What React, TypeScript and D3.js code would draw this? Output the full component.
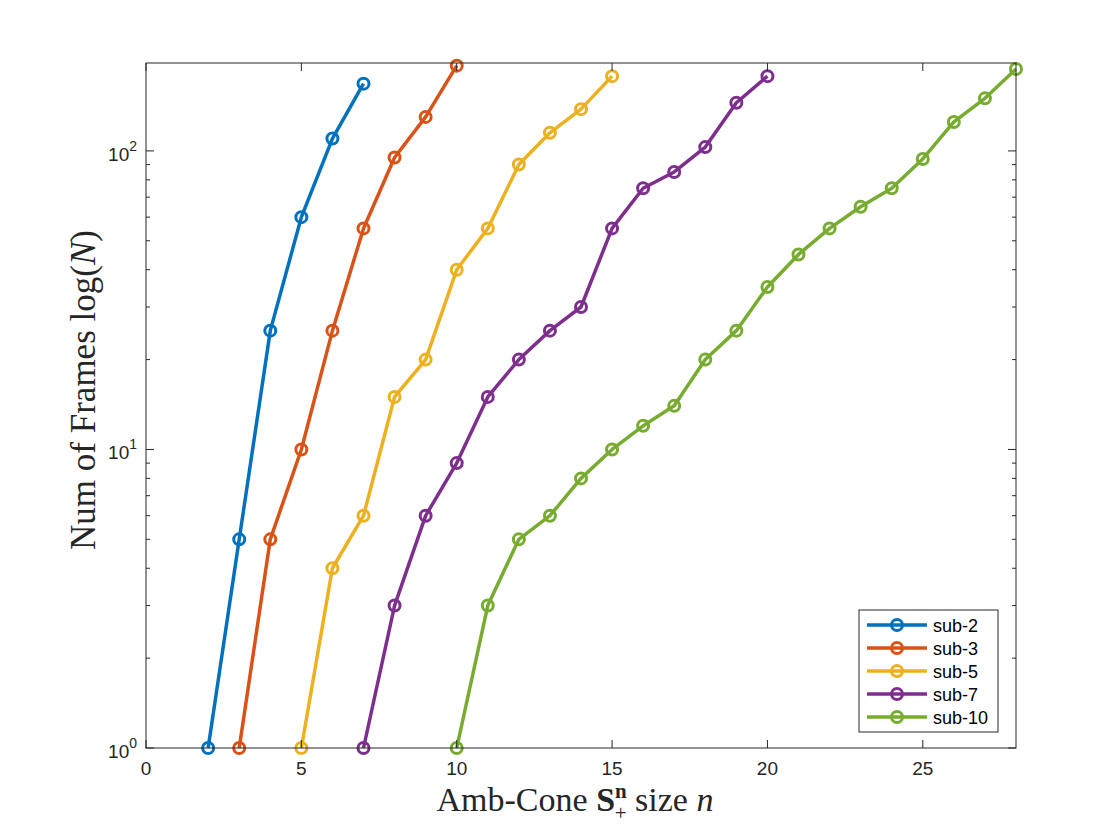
import * as d3 from 'd3';

// Amb-Cone size n vs number of frames, one series per sub-sampling level
const seriesNames = ['sub-2', 'sub-3', 'sub-5', 'sub-7', 'sub-10'];
const seriesColors = ['#0072BD', '#D95319', '#EDB120', '#7E2F8E', '#77AC30'];

const sub2X = [2, 3, 4, 5, 6, 7];
const sub2Y = [1, 5, 25, 60, 110, 168];

const sub3X = [3, 4, 5, 6, 7, 8, 9, 10];
const sub3Y = [1, 5, 10, 25, 55, 95, 130, 193];

const sub5X = [5, 6, 7, 8, 9, 10, 11, 12, 13, 14, 15];
const sub5Y = [1, 4, 6, 15, 20, 40, 55, 90, 115, 138, 178];

const sub7X = [7, 8, 9, 10, 11, 12, 13, 14, 15, 16, 17, 18, 19, 20];
const sub7Y = [1, 3, 6, 9, 15, 20, 25, 30, 55, 75, 85, 103, 145, 178];

const sub10X = [10, 11, 12, 13, 14, 15, 16, 17, 18, 19, 20, 21, 22, 23, 24, 25, 26, 27, 28];
const sub10Y = [1, 3, 5, 6, 8, 10, 12, 14, 20, 25, 35, 45, 55, 65, 75, 94, 125, 150, 188];

const xTicks = [0, 5, 10, 15, 20, 25];
const yDecades = [0, 1, 2];

const allX = [sub2X, sub3X, sub5X, sub7X, sub10X];
const allY = [sub2Y, sub3Y, sub5Y, sub7Y, sub10Y];

const W = 1120;
const H = 840;
const m = { left: 146, right: 1016, top: 63, bottom: 748 };
const axisColor = '#262626';
const tickFont = '"Liberation Sans", Arial, sans-serif';
const labelFont = '"Liberation Serif", "Times New Roman", serif';

export default function App() {
  const x = d3.scaleLinear().domain([0, 28]).range([m.left, m.right]);
  const y = d3.scaleLog().domain([1, 197]).range([m.bottom, m.top]);

  const line = d3
    .line<[number, number]>()
    .x(d => x(d[0]))
    .y(d => y(d[1]));

  const majorLen = 8;
  const minorLen = 4;

  const minorTicks: number[] = [];
  yDecades.forEach(p => {
    for (let k = 2; k <= 9; k++) {
      const v = k * Math.pow(10, p);
      if (v < 197) minorTicks.push(v);
    }
  });

  const legend = { x: 859, y: 610, w: 139, h: 122, row: 23 };

  return (
    <svg
      width={W}
      height={H}
      style={{ position: 'absolute', left: 0, top: 0, background: '#fff' }}
    >
      <rect x={0} y={0} width={W} height={H} fill="#fff" />

      {/* series */}
      {allX.map((xs, i) => {
        const pts = xs.map((v, j) => [v, allY[i][j]] as [number, number]);
        return (
          <g key={seriesNames[i]}>
            <path
              d={line(pts) ?? ''}
              fill="none"
              stroke={seriesColors[i]}
              strokeWidth={3.5}
              strokeLinejoin="round"
            />
            {pts.map((p, j) => (
              <circle
                key={j}
                cx={x(p[0])}
                cy={y(p[1])}
                r={5.5}
                fill="none"
                stroke={seriesColors[i]}
                strokeWidth={3}
              />
            ))}
          </g>
        );
      })}

      {/* axes box */}
      <rect
        x={m.left}
        y={m.top}
        width={m.right - m.left}
        height={m.bottom - m.top}
        fill="none"
        stroke={axisColor}
        strokeWidth={1}
      />

      {/* x ticks */}
      {xTicks.map(t => (
        <g key={t}>
          <line x1={x(t)} x2={x(t)} y1={m.bottom} y2={m.bottom - majorLen} stroke={axisColor} />
          <line x1={x(t)} x2={x(t)} y1={m.top} y2={m.top + majorLen} stroke={axisColor} />
          <text
            x={x(t)}
            y={m.bottom + 27}
            textAnchor="middle"
            fontFamily={tickFont}
            fontSize={19}
            fill={axisColor}
          >
            {t}
          </text>
        </g>
      ))}

      {/* y ticks */}
      {yDecades.map(p => {
        const v = Math.pow(10, p);
        return (
          <g key={p}>
            <line x1={m.left} x2={m.left + majorLen} y1={y(v)} y2={y(v)} stroke={axisColor} />
            <line x1={m.right} x2={m.right - majorLen} y1={y(v)} y2={y(v)} stroke={axisColor} />
            <text
              x={m.left - 9}
              y={y(v) + 10}
              textAnchor="end"
              fontFamily={tickFont}
              fontSize={19}
              fill={axisColor}
            >
              10
              <tspan fontSize={14} dy={-10}>
                {p}
              </tspan>
            </text>
          </g>
        );
      })}
      {minorTicks.map(v => (
        <g key={v}>
          <line x1={m.left} x2={m.left + minorLen} y1={y(v)} y2={y(v)} stroke={axisColor} />
          <line x1={m.right} x2={m.right - minorLen} y1={y(v)} y2={y(v)} stroke={axisColor} />
        </g>
      ))}

      {/* x label */}
      <text
        x={(m.left + m.right) / 2 - 6}
        y={811}
        textAnchor="middle"
        fontFamily={labelFont}
        fontSize={34}
        fill={axisColor}
      >
        Amb-Cone{' '}
        <tspan fontWeight="bold">S</tspan>
        <tspan fontWeight="bold" fontSize={21} dy={-13}>
          n
        </tspan>
        <tspan fontSize={21} dx={-12} dy={22}>
          +
        </tspan>
        <tspan dy={-9}> size </tspan>
        <tspan fontStyle="italic">n</tspan>
      </text>

      {/* y label */}
      <text
        transform={`translate(95, 390) rotate(-90)`}
        textAnchor="middle"
        fontFamily={labelFont}
        fontSize={35}
        fill={axisColor}
      >
        Num of Frames log(<tspan fontStyle="italic">N</tspan>)
      </text>

      {/* legend */}
      <rect
        x={legend.x}
        y={legend.y}
        width={legend.w}
        height={legend.h}
        fill="#fff"
        stroke={axisColor}
        strokeWidth={1}
      />
      {seriesNames.map((name, i) => {
        const ly = legend.y + 15 + i * legend.row;
        return (
          <g key={name}>
            <line
              x1={legend.x + 8}
              x2={legend.x + 68}
              y1={ly}
              y2={ly}
              stroke={seriesColors[i]}
              strokeWidth={3.5}
            />
            <circle
              cx={legend.x + 38}
              cy={ly}
              r={5.5}
              fill="none"
              stroke={seriesColors[i]}
              strokeWidth={3}
            />
            <text
              x={legend.x + 74}
              y={ly + 6.5}
              fontFamily={tickFont}
              fontSize={18}
              fill="#000"
            >
              {name}
            </text>
          </g>
        );
      })}
    </svg>
  );
}
